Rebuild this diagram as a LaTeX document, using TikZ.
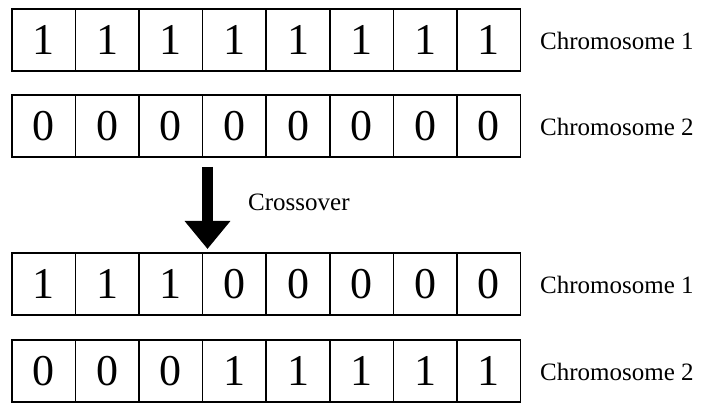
\documentclass[tikz,border=0pt]{standalone}
\usepackage{fontspec}
\setmainfont{Liberation Serif}
\usetikzlibrary{arrows.meta}
\begin{document}
\begin{tikzpicture}[x=1pt,y=-1pt,
  cell/.style={draw, line width=1.6pt, minimum width=63.6pt, minimum height=62pt,
    inner sep=0pt, anchor=north west, font=\fontsize{44}{44}\selectfont},
  lbl/.style={anchor=west, inner sep=0pt, font=\fontsize{25}{25}\selectfont}]
\useasboundingbox (0,0) rectangle (705,403);
% rows: top y, values
\foreach \r/\ty/\vals in {1/8/{1,1,1,1,1,1,1,1},2/94/{0,0,0,0,0,0,0,0},3/252/{1,1,1,0,0,0,0,0},4/339/{0,0,0,1,1,1,1,1}}{
  \foreach \v [count=\c] in \vals {
    \node[cell] (r\r c\c) at ({11+63.6*(\c-1)},\ty) {\v};
  }
}
\node[lbl] (l1) at (540,41) {Chromosome 1};
\node[lbl] (l2) at (540,127) {Chromosome 2};
\node[lbl] (l3) at (540,285) {Chromosome 1};
\node[lbl] (l4) at (540,372) {Chromosome 2};
\node[lbl] (cx) at (248,202) {Crossover};
\coordinate (atop) at (207.5,167);
\coordinate (atip) at (207.5,249);
\draw[line width=11pt, -{Triangle[width=44pt,length=28pt]}] (atop) -- (atip);
\end{tikzpicture}
\end{document}
